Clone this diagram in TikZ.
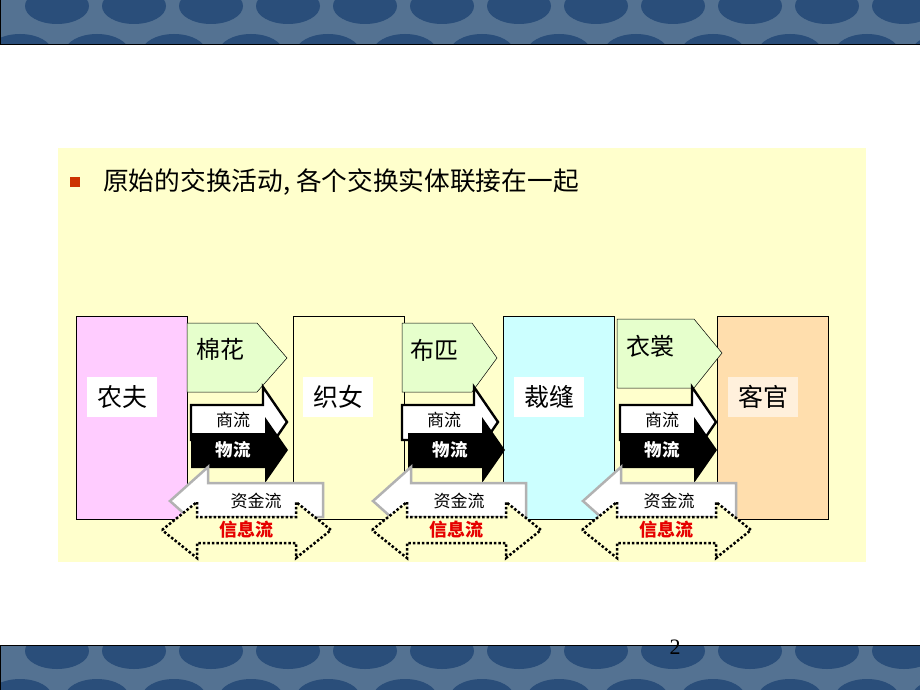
\documentclass[tikz,border=0pt]{standalone}
\usepackage{fontspec}
\setmainfont{Liberation Serif}
\newfontfamily\cjk{Noto Sans CJK SC}
\usetikzlibrary{positioning}
\definecolor{panelyellow}{RGB}{255,255,204}
\definecolor{farmpink}{RGB}{255,204,255}
\definecolor{tailorcyan}{RGB}{204,255,255}
\definecolor{buyerpeach}{RGB}{255,222,173}
\definecolor{buyerlight}{RGB}{255,240,220}
\definecolor{goodsgreen}{RGB}{230,255,204}
\definecolor{moneygrey}{RGB}{178,178,178}
\definecolor{bandblue}{RGB}{84,114,146}
\definecolor{banddark}{RGB}{42,78,122}
\definecolor{bulletred}{RGB}{204,51,0}
\definecolor{infored}{RGB}{230,0,0}

\begin{document}
\begin{tikzpicture}[x=1pt,y=-1pt]
  \tikzstyle{actor}=[draw,line width=0.8pt,anchor=north west,minimum width=111pt,minimum height=203pt]
  \tikzstyle{tag}=[fill=white,minimum width=70pt,minimum height=40pt,inner sep=0pt,font=\cjk\fontsize{25}{25}\selectfont]
  \tikzstyle{goods}=[draw,line width=0.5pt,fill=goodsgreen]
  \tikzstyle{small}=[font=\cjk\fontsize{17}{17}\selectfont]
  \useasboundingbox (0,0) rectangle (920,690);
  \fill[white] (0,0) rectangle (920,690);
  % bands top and bottom
  \foreach \yy in {0,645}{
    \begin{scope}
      \clip (0,\yy) rectangle (920,\yy+45);
      \fill[bandblue] (0,\yy) rectangle (920,\yy+45);
      \foreach \k in {0,...,12}{
        \fill[banddark] (57+77*\k,\yy+6) ellipse (32 and 18);
        \fill[banddark] (20+77*\k,\yy+52) ellipse (32 and 18);
      }
    \end{scope}
    \draw[line width=1pt] (0,\yy) rectangle (920,\yy+45);
  }
  % panel
  \fill[panelyellow] (58,148) rectangle (866,562);
  \fill[bulletred] (70,177) rectangle (80,187);
  \node[anchor=west,inner sep=0pt,font=\cjk\fontsize{25.7}{26}\selectfont] (title) at (103,182) {原始的交换活动, 各个交换实体联接在一起};
  % actors
  \node[actor,fill=farmpink] (farmer) at (76,316) {};
  \node[actor,fill=panelyellow] (weaver) at (293,316) {};
  \node[actor,fill=tailorcyan] (tailor) at (503,316) {};
  \node[actor,fill=buyerpeach] (buyer) at (717,316) {};
  \node[tag] (farmertag) at (122,397) {农夫};
  \node[tag] (weavertag) at (338,397) {织女};
  \node[tag] (tailortag) at (549,397) {裁缝};
  \node[tag,fill=buyerlight] (buyertag) at (763,397) {客官};
  % goods
  \foreach \i/\xa/\xb/\xc/\ya/\yb/\ym/\txt/\tx/\ty in
    {1/187/257/287/323/392/358/棉花/220/349, 2/402/472/497/323/392/358/布匹/434/350, 3/617/694/722/319/388/353/衣裳/650/346}{
    \draw[goods] (\xa,\ya) -- (\xb,\ya) -- (\xc,\ym) -- (\xb,\yb) -- (\xa,\yb) -- cycle;
    \node[font=\cjk\fontsize{24}{24}\selectfont] (goods\i) at (\tx,\ty) {\txt};
  }
  % trade and logistics
  \foreach \i/\xs/\xw in {1/191/191, 2/402/408, 3/620/620}{
    \draw[line width=2.4pt,fill=white] (\xs,405) -- (\xs+72,405) -- (\xs+72,387) -- (\xs+96,422)
      -- (\xs+72,457) -- (\xs+72,440) -- (\xs,440) -- cycle;
    \node[small] (trade\i) at (\xs+42,420) {商流};
    \fill (\xw,433) -- (\xw+74,433) -- (\xw+74,417) -- (\xw+97,450) -- (\xw+74,483) -- (\xw+74,468) -- (\xw,468) -- cycle;
    \node[white,font=\cjk\bfseries\fontsize{17.5}{18}\selectfont] (logis\i) at (\xw+42,450) {物流};
  }
  % money
  \foreach \i/\xt in {1/170, 2/373, 3/583}{
    \draw[moneygrey,line width=2.5pt,fill=white] (\xt,501) -- (\xt+38,467) -- (\xt+38,483) -- (\xt+153,483)
      -- (\xt+153,517) -- (\xt+38,517) -- (\xt+38,535) -- cycle;
    \node[small] (money\i) at (\xt+86,501) {资金流};
  }
  % information
  \foreach \i/\xl in {1/162, 2/372, 3/582}{
    \draw[dotted,line width=2.5pt,fill=panelyellow] (\xl,530) -- (\xl+35,502) -- (\xl+35,517) -- (\xl+134,517)
      -- (\xl+134,502) -- (\xl+169,530) -- (\xl+134,558) -- (\xl+134,543) -- (\xl+35,543) -- (\xl+35,558) -- cycle;
    \node[infored,font=\cjk\bfseries\fontsize{18}{18}\selectfont] (info\i) at (\xl+84,530) {信息流};
  }
  \node[font=\fontsize{22}{22}\selectfont] (pagenum) at (675,647) {2};
\end{tikzpicture}
\end{document}
